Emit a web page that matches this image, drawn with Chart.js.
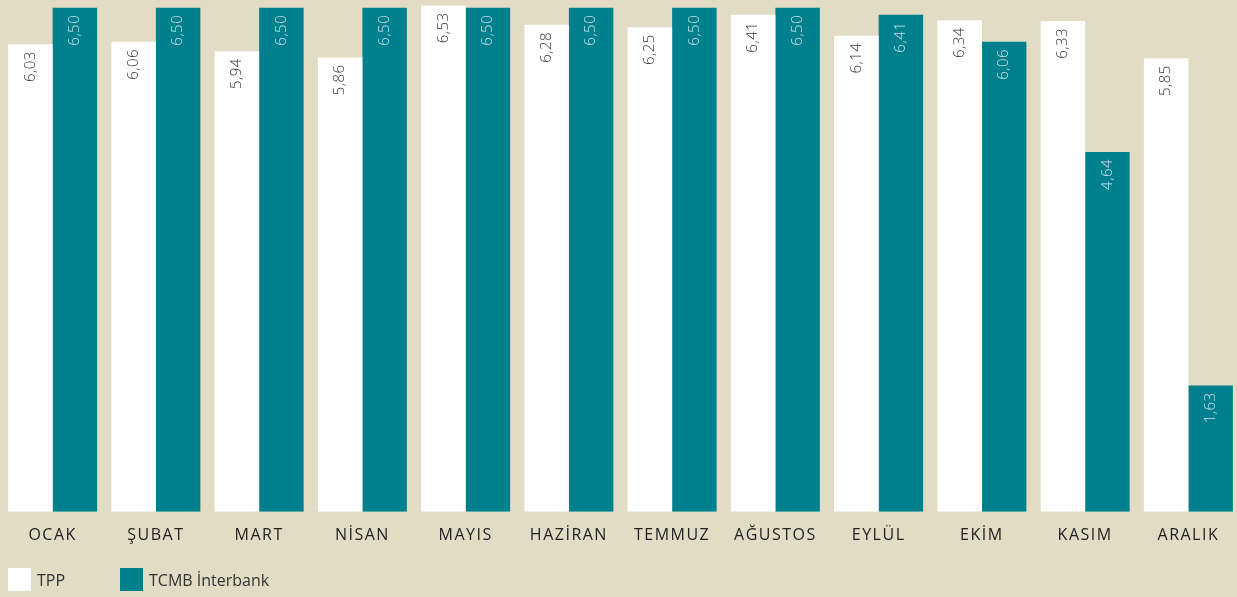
<!DOCTYPE html>
<html lang="tr">
<head>
    <meta charset="UTF-8">
    <title>TPP / TCMB İnterbank</title>
    <script src="https://cdn.jsdelivr.net/npm/chart.js@4.4.1/dist/chart.umd.min.js"></script>
    <style>
        * { margin: 0; padding: 0; box-sizing: border-box; }

        html, body {
            width: 1237px;
            height: 597px;
            overflow: hidden;
            background: #e2dcc4;
            font-family: 'Open Sans', sans-serif;
        }

        .wrap {
            position: relative;
            width: 1240px;
            height: 597px;
        }

        .legend {
            position: absolute;
            left: 8px;
            top: 568px;
            display: flex;
            align-items: center;
            font-size: 16px;
            color: #333;
        }

        .legend .box {
            width: 23px;
            height: 23px;
            margin-right: 6px;
        }

        .legend .item {
            display: flex;
            align-items: center;
        }
    </style>
</head>
<body>
    <div class="wrap">
        <canvas id="chart"></canvas>
        <div class="legend">
            <div class="item" style="width:112px"><span class="box" style="background:#ffffff"></span>TPP</div>
            <div class="item"><span class="box" style="background:#007f8c"></span>TCMB İnterbank</div>
        </div>
    </div>

    <script>
        const months = ['OCAK', 'ŞUBAT', 'MART', 'NİSAN', 'MAYIS', 'HAZİRAN', 'TEMMUZ', 'AĞUSTOS', 'EYLÜL', 'EKİM', 'KASIM', 'ARALIK'];
        const tpp = [6.03, 6.06, 5.94, 5.86, 6.53, 6.28, 6.25, 6.41, 6.14, 6.34, 6.33, 5.85];
        const tcmb = [6.50, 6.50, 6.50, 6.50, 6.50, 6.50, 6.50, 6.50, 6.41, 6.06, 4.64, 1.63];

        const white = '#ffffff';
        const teal = '#007f8c';

        // letter spacing for the month names
        const spacing = {
            id: 'spacing',
            beforeDraw(chart) {
                chart.ctx.letterSpacing = '1.5px';
            }
        };

        // rotated value labels inside the top of each bar
        const valueLabels = {
            id: 'valueLabels',
            afterDatasetsDraw(chart) {
                const ctx = chart.ctx;
                ctx.save();
                ctx.letterSpacing = '0.5px';
                ctx.font = '300 15px "Open Sans", sans-serif';
                ctx.textAlign = 'right';
                ctx.textBaseline = 'middle';
                chart.data.datasets.forEach((ds, i) => {
                    chart.getDatasetMeta(i).data.forEach((bar, j) => {
                        const txt = ds.data[j].toFixed(2).replace('.', ',');
                        ctx.save();
                        ctx.translate(bar.x, bar.y + 7);
                        ctx.rotate(-Math.PI / 2);
                        ctx.fillStyle = i === 0 ? '#333333' : '#cde4e7';
                        ctx.fillText(txt, 0, 0);
                        ctx.restore();
                    });
                });
                ctx.restore();
            }
        };

        new Chart(document.getElementById('chart'), {
            type: 'bar',
            data: {
                labels: months,
                datasets: [
                    { label: 'TPP', data: tpp, backgroundColor: white },
                    { label: 'TCMB İnterbank', data: tcmb, backgroundColor: teal }
                ]
            },
            options: {
                responsive: true,
                maintainAspectRatio: false,
                animation: false,
                events: [],
                layout: { padding: { left: 1, right: 0, top: 0, bottom: 38 } },
                datasets: {
                    bar: { categoryPercentage: 0.862, barPercentage: 1, borderWidth: 0 }
                },
                plugins: {
                    legend: { display: false },
                    tooltip: { enabled: false }
                },
                scales: {
                    x: {
                        grid: { display: false, drawTicks: false },
                        border: { display: false },
                        ticks: {
                            padding: 14,
                            color: '#222222',
                            font: { family: '"Open Sans", sans-serif', size: 16 }
                        }
                    },
                    y: {
                        display: false,
                        min: 0,
                        max: 6.6
                    }
                }
            },
            plugins: [spacing, valueLabels]
        });
    </script>
</body>
</html>
